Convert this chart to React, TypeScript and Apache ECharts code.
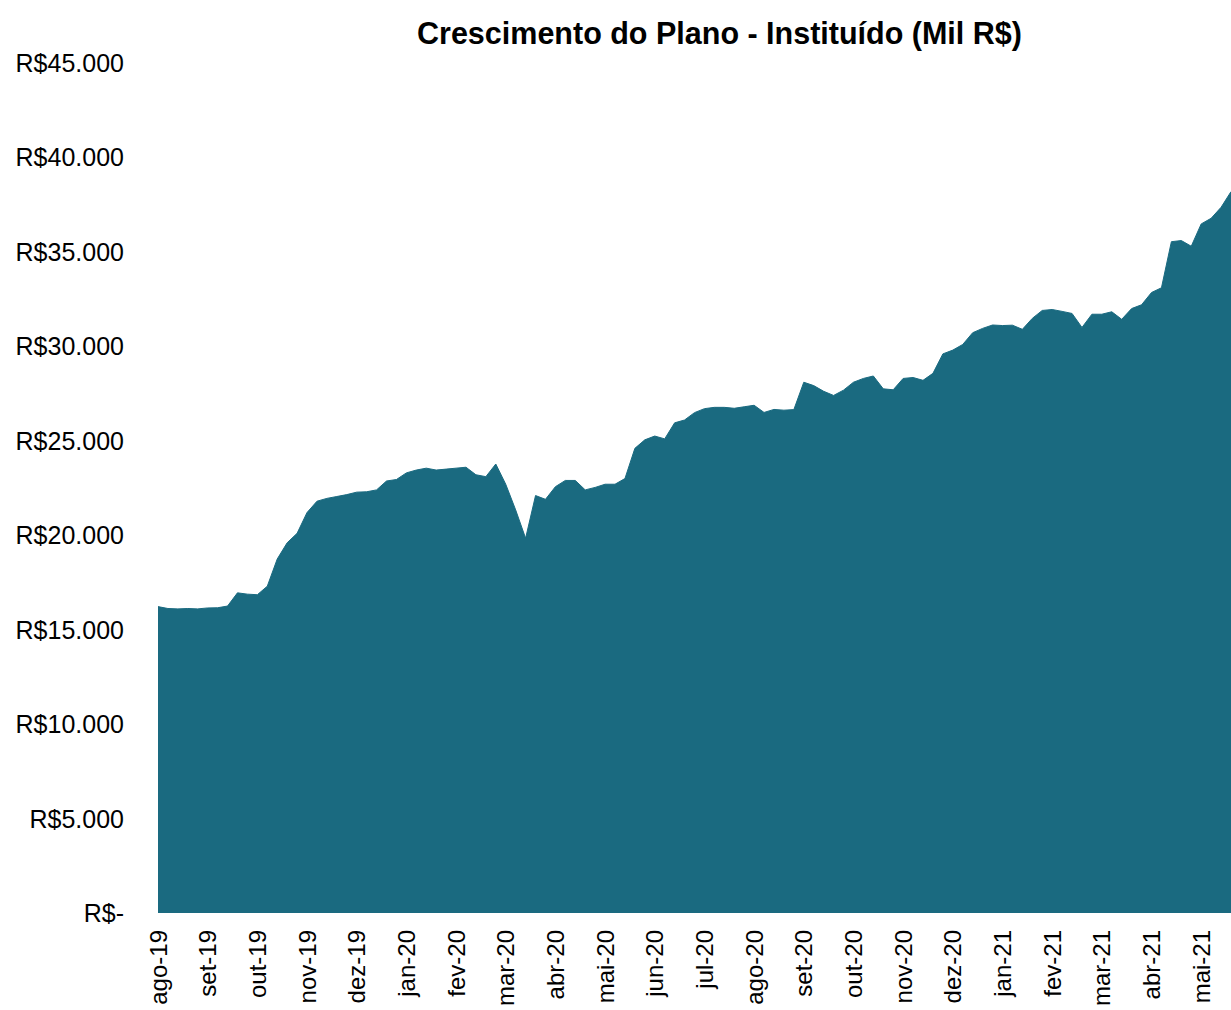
import React, { useEffect, useRef } from "react";
import * as echarts from "echarts";

const months = [
  "ago-19", "set-19", "out-19", "nov-19", "dez-19", "jan-20", "fev-20", "mar-20",
  "abr-20", "mai-20", "jun-20", "jul-20", "ago-20", "set-20", "out-20", "nov-20",
  "dez-20", "jan-21", "fev-21", "mar-21", "abr-21", "mai-21",
];
const pointsPerMonth = 5;

// Patrimônio (mil R$), ~5 leituras por mês
const values = [
  16220, 16120, 16100, 16120, 16100,
  16150, 16160, 16250, 16950, 16880,
  16850, 17300, 18740, 19600, 20100,
  21200, 21800, 21950, 22050, 22150,
  22280, 22300, 22400, 22870, 22950,
  23300, 23450, 23550, 23450, 23500,
  23550, 23600, 23200, 23100, 23770,
  22700, 21340, 19840, 22100, 21900,
  22570, 22900, 22900, 22400, 22530,
  22700, 22700, 23000, 24600, 25050,
  25250, 25100, 25950, 26100, 26490,
  26700, 26770, 26770, 26720, 26800,
  26880, 26500, 26660, 26620, 26650,
  28100, 27920, 27620, 27400, 27680,
  28100, 28300, 28430, 27750, 27700,
  28300, 28350, 28200, 28570, 29600,
  29800, 30100, 30720, 30950, 31130,
  31100, 31120, 30900, 31480, 31900,
  31950, 31850, 31740, 31000, 31700,
  31700, 31830, 31430, 32000, 32200,
  32850, 33100, 35540, 35600, 35300,
  36480, 36780, 37360, 38190,
];

const yTicks = { min: 0, max: 45000, interval: 5000 };

const categories = values.map((_, i) => {
  const m = months[Math.floor(i / pointsPerMonth)];
  const k = i % pointsPerMonth;
  return k === 0 ? m : `${m}·${k}`;
});

function fmtBRL(v: number): string {
  if (v === 0) return "R$-";
  const s = Math.round(v).toString().replace(/\B(?=(\d{3})+(?!\d))/g, ".");
  return "R$" + s;
}

export default function App() {
  const ref = useRef<HTMLDivElement>(null);
  useEffect(() => {
    document.body.style.margin = "0";
    if (!ref.current) return;
    const chart = echarts.init(ref.current, undefined, { renderer: "svg" });
    const font = "Liberation Sans";
    chart.setOption({
      animation: false,
      backgroundColor: "#ffffff",
      title: {
        text: "Crescimento do Plano - Instituído (Mil R$)",
        left: 412,
        top: 12,
        textStyle: {
          fontFamily: font,
          fontWeight: "bold",
          fontSize: 30.5,
          color: "#000000",
        },
      },
      grid: {
        left: 158,
        right: 0,
        top: 63,
        bottom: 97,
        containLabel: false,
        outerBoundsMode: "none",
      },
      xAxis: {
        type: "category",
        boundaryGap: false,
        data: categories,
        axisLine: { show: false },
        axisTick: { show: false },
        splitLine: { show: false },
        axisLabel: {
          rotate: 90,
          interval: (index: number) => index % pointsPerMonth === 0,
          formatter: (v: string) => v.split("·")[0],
          fontFamily: font,
          fontSize: 24,
          color: "#000000",
          margin: 17,
          hideOverlap: false,
        },
      },
      yAxis: {
        type: "value",
        min: yTicks.min,
        max: yTicks.max,
        interval: yTicks.interval,
        axisLine: { show: false },
        axisTick: { show: false },
        splitLine: { show: false },
        axisLabel: {
          formatter: (v: number) => fmtBRL(v),
          fontFamily: font,
          fontSize: 25,
          color: "#000000",
          margin: 34,
        },
      },
      series: [
        {
          type: "line",
          data: values,
          symbol: "none",
          lineStyle: { width: 1, color: "#1a6a80" },
          areaStyle: { color: "#1a6a80", opacity: 1 },
          itemStyle: { color: "#1a6a80" },
        },
      ],
    });
    return () => chart.dispose();
  }, []);
  return <div ref={ref} style={{ width: 1231, height: 1010 }} />;
}
